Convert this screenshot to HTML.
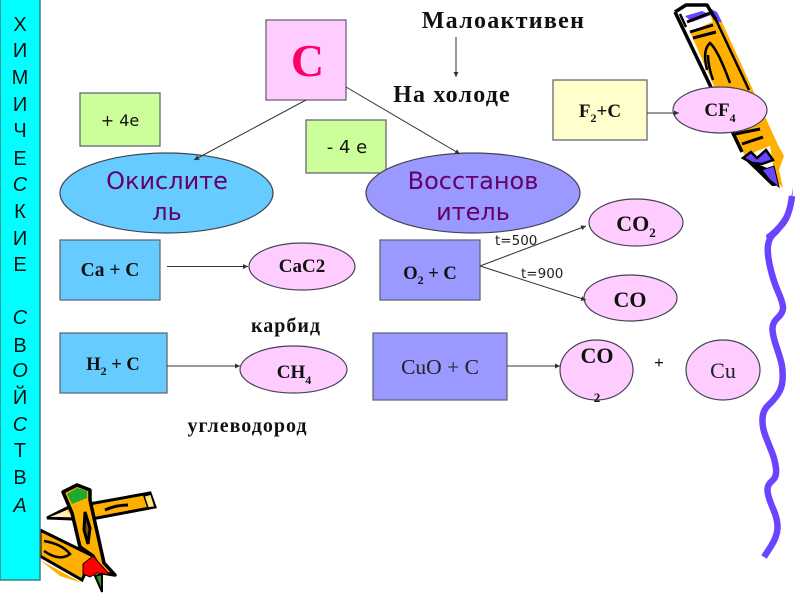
<!DOCTYPE html>
<html><head><meta charset="utf-8"><style>
html,body{margin:0;padding:0;background:#fff}
svg{display:block}
.b{font-family:"Liberation Serif",serif;font-weight:bold;fill:#111}
.s{font-family:"DejaVu Sans","Liberation Sans",sans-serif}
.r{font-family:"Liberation Serif",serif;fill:#222}
</style></head><body>
<svg width="800" height="600" viewBox="0 0 800 600" xmlns="http://www.w3.org/2000/svg">
<defs><marker id="a" markerWidth="6" markerHeight="6" refX="5" refY="2.500" orient="auto" markerUnits="userSpaceOnUse"><path d="M0 0L5 2.500L0 5z" fill="#333"/></marker></defs>
<!-- pencil top right -->
<g>
<path d="M708 8L716 12L722 22L778 145L784 156L779 170L783 188L775 180L770 145L712 20Z" fill="#ffb000"/>
<path d="M709 8L717 12L722 22L716 22L710 14Z" fill="#6a44ff"/>
<path d="M690 32L716 20L772 145L745 156Z" fill="#ffb000"/>
<path d="M675 12L686 5L707 5L713 13L690 30L684 27Z" fill="#fff"/>
<path d="M685 16L702 11L711 15L692 22Z" fill="#6a44ff"/>
<path d="M675 12L686 5L707 5L716 20M675 12L742 152" fill="none" stroke="#000" stroke-width="3.500" stroke-linejoin="round"/>
<path d="M716 20L749 90M680 14L686 27" fill="none" stroke="#000" stroke-width="2.500"/>
<path d="M687 22L710 13M690 32L713 25M693 38L716 32" fill="none" stroke="#000" stroke-width="3"/>
<path d="M707 70Q702 50 710 43Q718 50 730 83M713 80Q708 66 708 55" fill="none" stroke="#000" stroke-width="2.500"/>
<path d="M735 134L760 129M742 144L763 137" fill="none" stroke="#000" stroke-width="3"/>
<path d="M743 158L751 152L757 158L766 150L773 160L762 164L752 163Z" fill="#6a44ff" stroke="#000" stroke-width="2.500"/>
<path d="M743 158L755 163L767 168L776 186L772 186Z" fill="#000"/>
<path d="M762 170L774 166L779 187L770 180Z" fill="#6a44ff" stroke="#000" stroke-width="1"/>
</g>
<!-- squiggle -->
<path d="M792 196Q791 205 788.500 212.500Q786 220 782.500 224Q779 228 774 233Q769 238 768 245.500Q767 253 770 266.500Q773 280 778 291.500Q783 303 783 308Q783 313 777.500 318Q772 323 772.500 330Q773 337 777 348.500Q781 360 782 366Q783 372 782.500 380Q782 388 778 394Q774 400 768.500 405Q763 410 762.500 418.500Q762 427 765.500 436Q769 445 772 452.500Q775 460 776 468.500Q777 477 772 481Q767 485 767.500 491Q768 497 773 508.500Q778 520 777.500 528.500Q777 537 770.500 547L764 557" fill="none" stroke="#6a44ff" stroke-width="6.500" stroke-linejoin="round"/>
<path d="M793 187C792 212 788 230 767 243L766 235C780 225 790 210 793 187Z" fill="#6a44ff"/>
<!-- pencils bottom left -->
<g>
<path d="M40 530L93 556L82 580L40 556Z" fill="#ffb000" stroke="#000" stroke-width="3"/>
<path d="M40 560L82 583L60 576Z" fill="#ffb000"/>
<path d="M44 541Q62 544 70 554Q60 562 44 551" fill="none" stroke="#000" stroke-width="2.500"/>
<path d="M47 518L67 508L150 493L155 507L97 518L72 519Z" fill="#ffb000" stroke="#000" stroke-width="3"/>
<path d="M50 517L67 510L72 517Z" fill="#ffeebb"/>
<path d="M144 496L151 494L155 507L148 508Z" fill="#ffe680" stroke="#000" stroke-width="1.500"/>
<path d="M105 510Q116 505 128 505" fill="none" stroke="#000" stroke-width="3"/>
<path d="M72 513L63 492L77 485L90 490L90 500L104 563L115 575L103 573L93 556L80 547Z" fill="#ffb000" stroke="#000" stroke-width="3.500" stroke-linejoin="round"/>
<path d="M67 494L77 488L87 491L87 498L72 504Z" fill="#1eaa2e"/>
<path d="M85 512L90 528L88 544L84 530Z" fill="#7a5500" stroke="#000" stroke-width="3"/>
<path d="M83 564L93 556L110 575L97 573L90 577L83 574Z" fill="#f00" stroke="#000" stroke-width="1"/>
<path d="M95 576L102 574L102 592Z" fill="#2a9a2a" stroke="#000" stroke-width="2"/>
</g>
<!-- left bar -->
<rect x="0" y="-2" width="40" height="582" fill="#00ffff" stroke="#3f7f80" stroke-width="1.500"/>
<g font-family="Liberation Sans,sans-serif" font-size="20" fill="#111" text-anchor="middle">
<text x="20" y="31">Х</text><text x="20" y="57">И</text><text x="20" y="84">М</text><text x="20" y="111">И</text><text x="20" y="137">Ч</text><text x="20" y="165">Е</text><text x="20" y="191" font-style="italic">С</text><text x="20" y="218">К</text><text x="20" y="245">И</text><text x="20" y="271">Е</text>
<text x="20" y="324" font-style="italic">С</text><text x="20" y="352">В</text><text x="20" y="377" font-style="italic">О</text><text x="20" y="404">Й</text><text x="20" y="431" font-style="italic">С</text><text x="20" y="457">Т</text><text x="20" y="484">В</text><text x="20" y="512" font-style="italic">А</text>
</g>
<g stroke="#667" stroke-width="1.300">
<rect x="266" y="20" width="80" height="80" fill="#ffccff"/>
<rect x="80" y="93" width="80" height="53" fill="#ccff99"/>
<rect x="306" y="120" width="80" height="53" fill="#ccff99"/>
<rect x="60" y="240" width="100" height="60" fill="#66ccff"/>
<rect x="380" y="240" width="100" height="60" fill="#9999ff"/>
<rect x="553" y="80" width="94" height="60" fill="#ffffcc"/>
<rect x="60" y="333" width="107" height="60" fill="#66ccff"/>
<rect x="373" y="333" width="134" height="67" fill="#9999ff"/>
</g>
<g stroke="#445" stroke-width="1.200">
<ellipse cx="166.500" cy="193" rx="106.500" ry="40" fill="#66ccff"/>
<ellipse cx="473" cy="193" rx="107" ry="40" fill="#9999ff"/>
<g fill="#ffccff">
<ellipse cx="302" cy="266.500" rx="53" ry="23.500"/>
<ellipse cx="720" cy="110" rx="47" ry="23"/>
<ellipse cx="636" cy="222.500" rx="47" ry="23.500"/>
<ellipse cx="630.500" cy="298" rx="46.500" ry="23"/>
<ellipse cx="293.500" cy="369.500" rx="53.500" ry="23.500"/>
<ellipse cx="596.500" cy="370" rx="36.500" ry="30"/>
<ellipse cx="723" cy="370" rx="37" ry="30"/>
</g></g>
<!-- connectors -->
<g stroke="#333" stroke-width="1" fill="none" marker-end="url(#a)">
<line x1="306" y1="100" x2="194" y2="160"/>
<line x1="346" y1="87" x2="460" y2="154"/>
<line x1="456" y1="37" x2="456" y2="77"/>
<line x1="647" y1="113" x2="679" y2="113"/>
<line x1="167" y1="266.500" x2="248" y2="266.500"/>
<line x1="480" y1="266" x2="586" y2="226"/>
<line x1="480" y1="266" x2="586" y2="300"/>
<line x1="167" y1="366" x2="240" y2="366"/>
<line x1="507" y1="366" x2="560" y2="366"/>
</g>
<!-- text -->
<text x="307.500" y="76" text-anchor="middle" font-family="Liberation Serif,serif" font-weight="bold" font-size="46" fill="#ff0066">C</text>
<g class="s" fill="#111" font-size="16" text-anchor="middle">
<text x="120" y="126">+ 4е</text>
<text x="347" y="153" font-size="18">- 4 е</text>
</g>
<g class="s" fill="#660066" font-size="24" text-anchor="middle">
<text x="167" y="189">Окислите</text><text x="167" y="220">ль</text>
<text x="473" y="189">Восстанов</text><text x="473" y="220">итель</text>
</g>
<g class="b" text-anchor="middle">
<text x="503.500" y="28" font-size="24" letter-spacing="1.300">Малоактивен</text>
<text x="452" y="102" font-size="24" letter-spacing="1.200">На холоде</text>
<text x="110" y="276" font-size="19.500">Ca + C</text>
<text x="302" y="272" font-size="19">CaC2</text>
<text x="430" y="279" font-size="18.500">O<tspan font-size="12" dy="5">2</tspan><tspan dy="-5"> + C</tspan></text>
<text x="600" y="117" font-size="19">F<tspan font-size="12" dy="5">2</tspan><tspan dy="-5">+C</tspan></text>
<text x="113" y="370" font-size="18.500">H<tspan font-size="12" dy="5">2</tspan><tspan dy="-5"> + C</tspan></text>
<text x="720" y="116" font-size="19">CF<tspan font-size="12" dy="6">4</tspan></text>
<text x="636" y="231" font-size="22">CO<tspan font-size="13" dy="6">2</tspan></text>
<text x="630" y="307" font-size="22">CO</text>
<text x="294" y="378" font-size="19">CH<tspan font-size="12" dy="6">4</tspan></text>
<text x="597" y="363" font-size="22">CO</text>
<text x="597" y="402" font-size="13">2</text>
<text x="659" y="368" font-size="17">+</text>
<text x="286" y="332" font-size="20" letter-spacing="1">карбид</text>
<text x="247.500" y="432" font-size="20" letter-spacing="1">углеводород</text>
</g>
<text x="440" y="374" class="r" font-size="21.500" text-anchor="middle">CuO + C</text>
<text x="723" y="378" class="r" font-size="22" text-anchor="middle">Cu</text>
<g class="s" font-size="13.500" fill="#222">
<text x="495" y="245">t=500</text>
<text x="521" y="278">t=900</text>
</g>
</svg>
</body></html>
